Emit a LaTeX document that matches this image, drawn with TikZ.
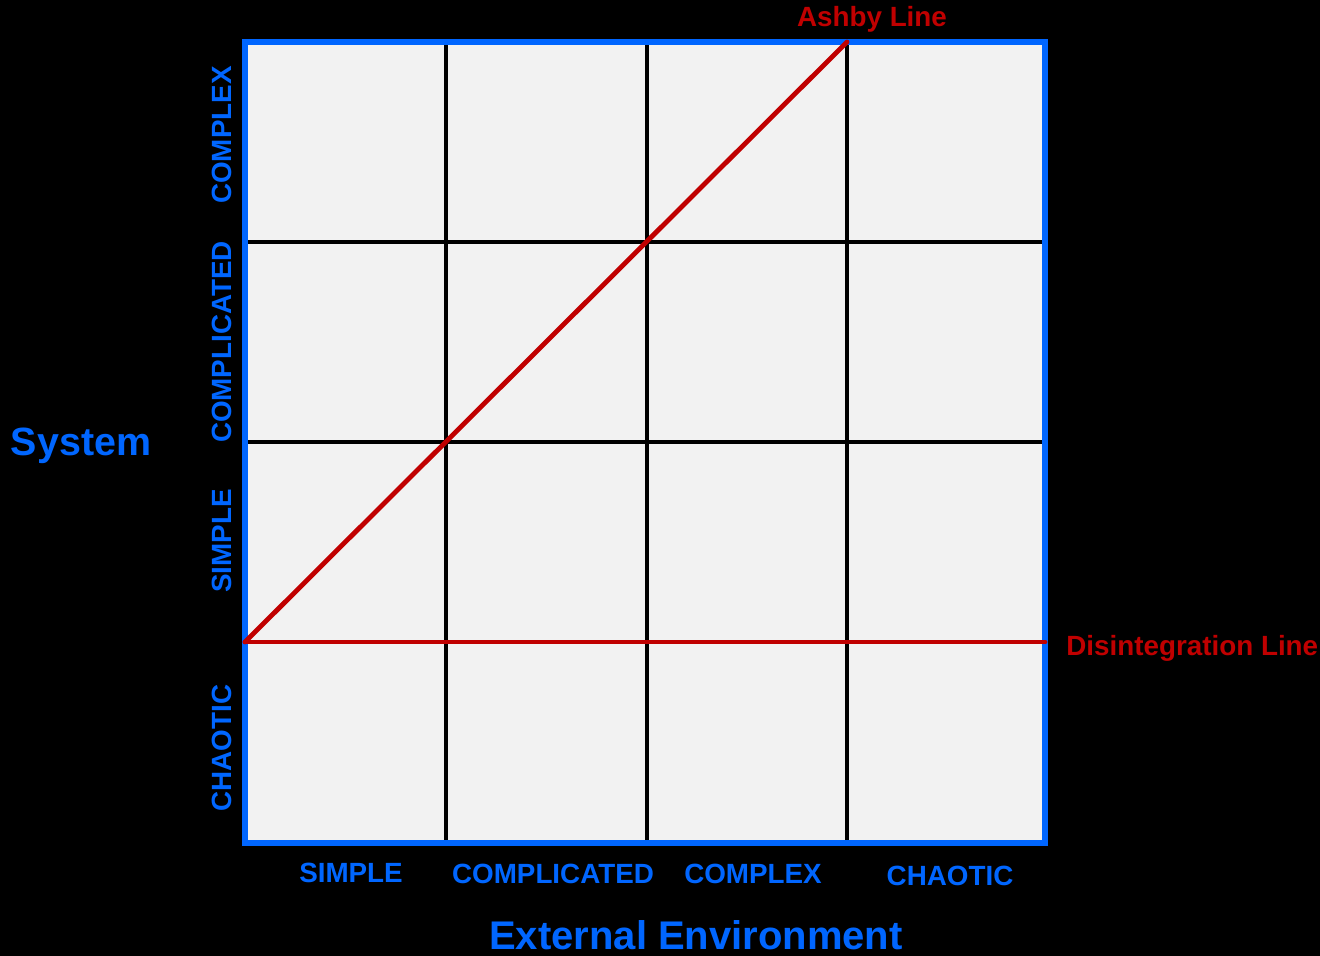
\documentclass[tikz,border=0pt]{standalone}
\usepackage{fontspec}
\setmainfont{Liberation Sans}
\usepackage{xcolor}
\usetikzlibrary{positioning}

\definecolor{axisblue}{HTML}{0066FF}
\definecolor{linered}{HTML}{C00000}
\definecolor{cellgray}{HTML}{F2F2F2}

\tikzset{
  axislabel/.style={text=axisblue,font=\fontsize{13.9}{16}\selectfont\bfseries,inner sep=0pt,anchor=base},
  axistitle/.style={text=axisblue,font=\fontsize{19.7}{23}\selectfont\bfseries,inner sep=0pt,anchor=base},
  linelabel/.style={text=linered,font=\fontsize{13.9}{16}\selectfont\bfseries,inner sep=0pt},
  gridline/.style={black,line width=2.4pt},
  redline/.style={linered,line width=2.4pt,line cap=round}
}

\begin{document}
\begin{tikzpicture}[x=0.5pt,y=-0.5pt]
% Background and frame
\fill[black] (0,0) rectangle (1320,956);
\useasboundingbox (0,0) rectangle (1320,956);
\fill[cellgray] (245,42) rectangle (1045,843);

% Grid
\foreach \gx in {446,647,847} {
  \draw[gridline] (\gx,42) -- (\gx,843);
}
\foreach \gy in {242,442,642} {
  \draw[gridline] (245,\gy) -- (1045,\gy);
}
\draw[axisblue,line width=2.7pt] (245,42) rectangle (1045,843);

% Ashby and disintegration lines
\coordinate (origin) at (245,642);
\coordinate (ashbyend) at (847,42);
\coordinate (disend) at (1045,642);
\draw[redline] (origin) -- (ashbyend);
\draw[redline] (origin) -- (disend);
\node[linelabel,anchor=base] (ashby) at (872,27) {Ashby Line};
\node[linelabel,anchor=base west] (disint) at (1066,655) {Disintegration Line};

% System axis
\node[axislabel,rotate=90] (sysComplex) at (231,135) {COMPLEX};
\node[axislabel,rotate=90] (sysComplicated) at (231,342) {COMPLICATED};
\node[axislabel,rotate=90] (sysSimple) at (231,541) {SIMPLE};
\node[axislabel,rotate=90] (sysChaotic) at (231,748) {CHAOTIC};
\node[axistitle] (system) at (81,455) {System};

% Environment axis
\node[axislabel] (envSimple) at (351,882) {SIMPLE};
\node[axislabel] (envComplicated) at (553,883) {COMPLICATED};
\node[axislabel] (envComplex) at (753,883) {COMPLEX};
\node[axislabel] (envChaotic) at (950,885) {CHAOTIC};
\node[axistitle,font=\fontsize{20}{24}\selectfont\bfseries] (environment) at (696,949) {External Environment};
\end{tikzpicture}
\end{document}
